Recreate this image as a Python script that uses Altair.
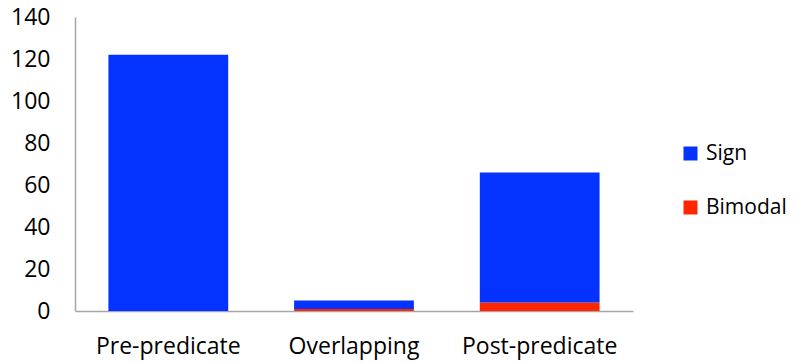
import altair as alt
import pandas as pd

categories = ["Pre-predicate", "Overlapping", "Post-predicate"]
sign_counts = [122, 4, 62]
bimodal_counts = [0, 1, 4]
series = ["Sign", "Bimodal"]
colors = ["#0433FF", "#FF2600"]

rows = []
for cat, s, b in zip(categories, sign_counts, bimodal_counts):
    rows.append({"category": cat, "type": "Bimodal", "count": b, "order": 0})
    rows.append({"category": cat, "type": "Sign", "count": s, "order": 1})
df = pd.DataFrame(rows)

font = "Open Sans"
axis_gray = "#A6A6A6"

chart = (
    alt.Chart(df)
    .mark_bar()
    .encode(
        x=alt.X(
            "category:N",
            sort=categories,
            title=None,
            scale=alt.Scale(paddingInner=0.355, paddingOuter=0.18),
            axis=alt.Axis(
                labelAngle=0,
                labelFontSize=23,
                labelFont=font,
                labelColor="#000000",
                labelPadding=24,
                ticks=False,
                domainColor=axis_gray,
                domainWidth=1.5,
            ),
        ),
        y=alt.Y(
            "count:Q",
            stack="zero",
            title=None,
            scale=alt.Scale(domain=[0, 140], nice=False),
            axis=alt.Axis(
                values=list(range(0, 141, 20)),
                grid=False,
                ticks=False,
                labelFontSize=23,
                labelFont=font,
                labelColor="#000000",
                labelPadding=25,
                domainColor=axis_gray,
                domainWidth=1.5,
            ),
        ),
        color=alt.Color(
            "type:N",
            scale=alt.Scale(domain=series, range=colors),
            legend=alt.Legend(
                title=None,
                orient="none",
                legendX=605,
                legendY=126,
                symbolType="square",
                symbolSize=196,
                symbolStrokeWidth=0,
                labelFontSize=21,
                labelFont=font,
                labelColor="#000000",
                rowPadding=32,
                labelOffset=5,
            ),
        ),
        order=alt.Order("order:Q"),
    )
    .properties(
        width=558,
        height=294,
        background="#FFFFFF",
        autosize=alt.AutoSizeParams(type="none"),
        padding={"left": 75, "top": 17, "right": 164, "bottom": 52},
    )
    .configure_view(stroke=None)
)

chart.save("out.html", embed_options={"renderer": "svg", "actions": False})
